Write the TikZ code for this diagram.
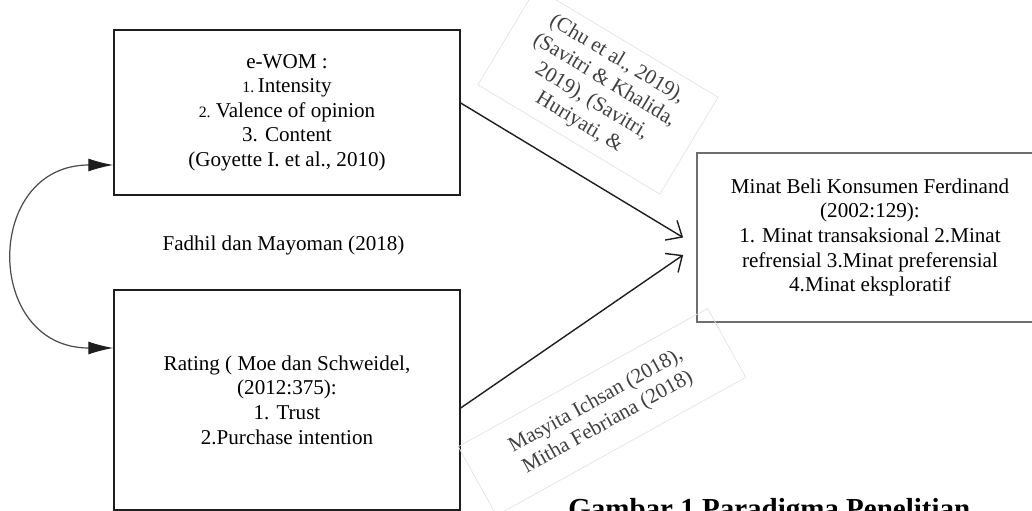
\documentclass[tikz,border=0pt]{standalone}
\usepackage{fontspec}
\setmainfont{Liberation Serif}
\usepackage{tikz}
\usetikzlibrary{arrows.meta,positioning,calc}
\definecolor{paraline}{HTML}{1E1E1E}
\definecolor{paragray}{HTML}{6E6E6E}
\definecolor{paraframe}{HTML}{E2E2E2}
\tikzset{
  varbox/.style={draw=paraline, line width=0.8pt, align=center, inner sep=4pt, minimum width=6.92cm, font=\fontsize{12}{14}\selectfont},
  depbox/.style={varbox, draw=paragray, line width=1pt},
  link/.style={-{Straight Barb[length=2.6mm,width=4.6mm]}, line width=0.8pt, draw=paraline},
  biarrow/.style={{Latex[length=5mm,width=2.6mm,color=paraline]}-{Latex[length=5mm,width=2.6mm,color=paraline]}, line width=0.7pt, draw=paragray!70!black},
  cite/.style={draw=paraframe, align=center, inner xsep=5mm, inner ysep=2mm, font=\fontsize{12}{14}\selectfont, text=paraline!85},
  info/.style={font=\fontsize{12}{14}\selectfont, align=center}
}

\begin{document}
\begin{tikzpicture}
  \useasboundingbox (0,0) rectangle (20.64,-10.22);
  % variabel bebas dan terikat
  \node[varbox, minimum height=3.3cm] (ewom) at (5.74,-2.25) {e-WOM :\\{\small 1.}\,Intensity\\{\small 2.}\ Valence of opinion\\3. Content\\(Goyette I. et al., 2010)};
  \node[varbox, minimum height=4.4cm] (rating) at (5.74,-8.0) {Rating ( Moe dan Schweidel,\\(2012:375):\\1. Trust\\2.Purchase intention};
  \node[depbox, minimum height=3.38cm] (minat) at (17.4,-4.75) {Minat Beli Konsumen Ferdinand\\(2002:129):\\1. Minat transaksional 2.Minat\\refrensial 3.Minat preferensial\\4.Minat eksploratif};
  \node[info] (fadhil) at (5.67,-4.9) {Fadhil dan Mayoman (2018)};
  % rujukan miring
  \node[cite, rotate=-31] (citeA) at (11.96,-1.82) {(Chu et al., 2019),\\(Savitri \& Khalida,\\2019), (Savitri,\\Huriyati, \&};
  \node[cite, rotate=29, inner xsep=9mm, inner ysep=3.5mm] (citeB) at (12.04,-8.24) {Masyita Ichsan (2018),\\Mitha Febriana (2018)};
  \coordinate (tipA) at ($(minat.west)+(-0.26,0)$);
  \coordinate (tipB) at ($(minat.west)+(-0.26,-0.35)$);
  \draw[link] ($(ewom.east)+(0,0.19)$) -- (tipA);
  \draw[link] ($(rating.east)+(0,-0.16)$) -- (tipB);
  \draw[biarrow] ($(ewom.west)+(0,-1.05)$) .. controls +(-2.6,0) and +(-2.6,0) .. ($(rating.west)+(0,1.04)$);
  \node[font=\bfseries\fontsize{16.5}{18}\selectfont, anchor=base west, inner sep=0pt] (caption) at (11.36,-10.36) {Gambar 1 Paradigma Penelitian};
\end{tikzpicture}
\end{document}
